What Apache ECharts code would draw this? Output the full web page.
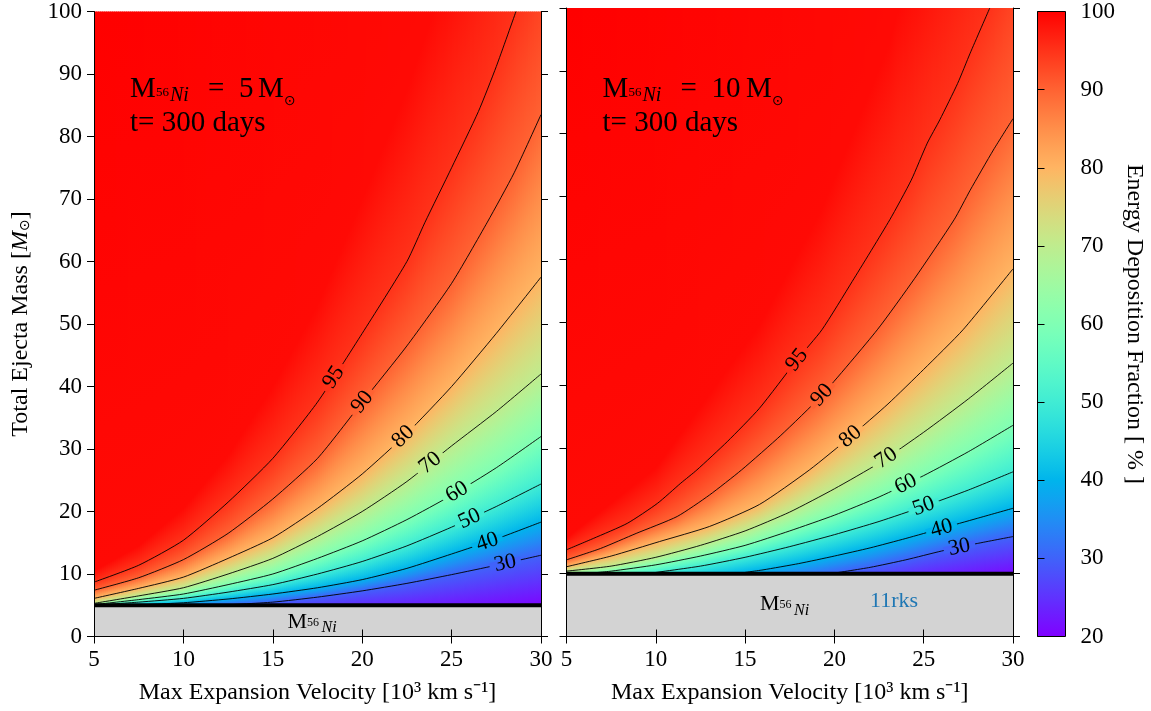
<!DOCTYPE html>
<html>
<head>
<meta charset="utf-8">
<script src="https://cdn.jsdelivr.net/npm/echarts@6.0.0/dist/echarts.min.js"></script>
<style>
html,body{margin:0;padding:0;background:#ffffff;}
#chart{width:1151px;height:711px;}
</style>
</head>
<body>
<div id="chart"></div>
<script>
// ================= DATA =================
const velocityTicks = [5, 10, 15, 20, 25, 30];
const massTicks = [0, 10, 20, 30, 40, 50, 60, 70, 80, 90, 100];
const fractionTicks = [20, 30, 40, 50, 60, 70, 80, 90, 100];
const contourLevels = [30, 40, 50, 60, 70, 80, 90, 95];
const labelLevels = [95, 90, 80, 70, 60, 50, 40, 30];

// ---- left panel: M56Ni = 5 Msun ----
const leftNiMass = 5;
const leftC95 = [[5,8.7],[7.5,11.4],[10,15.4],[12.5,21.5],[15,28.5],[17.5,37.5],[20,48.5],[22.5,60],[23.5,66.2],[25,75],[26.5,84],[27.5,91.2],[28.6,100]];
const leftC90 = [[5,7.4],[7.5,9.4],[10,12.3],[12.5,16.5],[15,22],[17.5,28.5],[20,37.5],[22.5,46.5],[25,56.5],[27,66.3],[28.5,74.2],[30,83.5]];
const leftC80 = [[5,6.1],[7.5,7.7],[10,9.5],[12.5,12.5],[15,15.8],[17.5,20.5],[20,26],[22.5,32.5],[25,40],[27.5,48.5],[30,57.5]];
const leftC70 = [[5,5.3],[7.5,6.5],[10,7.8],[12.5,10],[15,12.5],[17.5,16],[20,20],[22.5,24.8],[25,30.5],[27.5,36],[30,42]];
const leftC60 = [[5,5.1],[7.5,5.9],[10,6.8],[12.5,8.3],[15,10],[17.5,12.5],[20,15.3],[22.5,18.7],[25,22.6],[27.5,27],[30,32]];
const leftC50 = [[5,5],[7.5,5.5],[10,6.1],[12.5,7.1],[15,8.3],[17.5,10],[20,12],[22.5,14.5],[25,17.5],[27.5,20.8],[30,24.4]];
const leftC40 = [[7,5],[10,5.4],[12.5,6],[15,6.8],[17.5,7.8],[20,9.1],[22.5,10.9],[25,13.2],[27.5,15.6],[30,18.3]];
const leftC30 = [[12,5],[15,5.5],[17.5,6.3],[20,7.3],[22.5,8.5],[25,9.9],[27.5,11.4],[30,13.0]];
// ~99 % shading edge, estimated from the colour (not drawn as a line)
const leftShade99 = [[5,10.5],[7.5,14.5],[10,20.5],[12.5,29],[15,40],[17.5,53],[20,70],[22.5,87.5],[24,100]];
// fraction just above the Ni line and along the top edge
const leftBottomValue = [[5,50],[7,40],[12,30],[20,24],[30,20.5]];
const leftTopValue = [[5,100],[24,99],[28.6,95],[30,93]];
const leftLabelVelocity = [18.4, 20, 22.3, 23.8, 25.3, 26, 27, 28];

// ---- right panel: M56Ni = 10 Msun ----
const rightNiMass = 10;
const rightC95 = [[5,13.8],[6.5,15.6],[8.4,18],[10.1,21.2],[11.4,24.4],[12.3,26.5],[14,31],[15.8,36.3],[17.9,44],[19.3,48.8],[21,56.5],[23.1,66.3],[24.3,72.6],[25.2,78.5],[25.9,82.2],[26.9,88],[27.6,92.8],[28.7,100]];
const rightC90 = [[5,12.2],[6.9,14],[8.9,16.4],[11.2,19.1],[13,22.5],[14.8,26.5],[17,32],[19.3,38.4],[22.4,48.8],[24.5,57],[26.7,66.3],[27.6,71],[28.9,77.4],[30,82.4]];
const rightC80 = [[5,11.1],[7.5,12.8],[10.2,15.1],[13,17.5],[15.8,21],[18.6,26.5],[20.9,31.8],[23,37],[25,42.5],[27.2,48.8],[30,58.5]];
const rightC70 = [[5,10.4],[7.5,11.2],[10,12.6],[12.5,14.5],[15,16.8],[17.5,19.8],[20,23.5],[22.5,27.6],[25,32.5],[27.5,37.8],[30,43.5]];
const rightC60 = [[6,10],[7.5,10.4],[10,11.4],[12.5,12.8],[15,14.5],[17.5,16.8],[20,19.3],[22.5,22.2],[25,25.6],[27.5,29.4],[30,33.6]];
const rightC50 = [[9.5,10],[12.5,11.2],[15,12.6],[17.5,14.3],[20,16.2],[22.5,18.3],[25,20.7],[27.5,23.3],[30,26.2]];
const rightC40 = [[14.5,10],[16,10.6],[18,11.6],[20,12.8],[22,14.1],[24,15.6],[26,17.2],[28,18.8],[30,20.4]];
const rightC30 = [[19.8,10],[22,11],[24,12.2],[26,13.6],[28,14.8],[30,15.9]];
const rightShade99 = [[5,15.7],[10,26.8],[15.8,49.5],[19.3,68],[21,79.8],[23.1,94.5],[23.6,100]];
const rightBottomValue = [[5,64],[6,60],[9.5,50],[14.5,40],[19.8,30],[25,24],[30,21]];
const rightTopValue = [[5,100],[23.6,99],[28.7,95],[30,93]];
const rightLabelVelocity = [17.9, 19.3, 20.9, 22.9, 24, 25, 26, 27];

// ================= helpers =================
const FONT = 'Liberation Serif';
function cmap(val) { // matplotlib "rainbow", 20..100
  const x = Math.min(1, Math.max(0, (val - 20) / 80));
  const c = v => Math.round(255 * Math.min(1, Math.max(0, v)));
  return 'rgb(' + c(Math.abs(2 * x - 0.5)) + ',' + c(Math.sin(Math.PI * x)) + ',' + c(Math.cos(Math.PI * x / 2)) + ')';
}
function interpAt(arr, v) {
  if (v < arr[0][0] || v > arr[arr.length - 1][0]) return null;
  for (let i = 1; i < arr.length; i++) {
    if (v <= arr[i][0]) {
      const x0 = arr[i-1][0], y0 = arr[i-1][1], x1 = arr[i][0], y1 = arr[i][1];
      const t = x1 === x0 ? 0 : (v - x0) / (x1 - x0);
      return y0 + t * (y1 - y0);
    }
  }
  return arr[arr.length - 1][1];
}
function clampInterp(arr, v) {
  if (v <= arr[0][0]) return arr[0][1];
  if (v >= arr[arr.length - 1][0]) return arr[arr.length - 1][1];
  return interpAt(arr, v);
}
function buildPanel(mNi, contours, shade, bottom, top, labelV) {
  const fills = contourLevels.map((lv, i) => ({ level: lv, pts: contours[i] }));
  fills.push({ level: 99, pts: shade });
  const byLevel = {};
  contourLevels.forEach((lv, i) => byLevel[lv] = contours[i]);
  return { mNi, contours, fills, bottom, top, labelV, byLevel };
}
const panels = [
  buildPanel(leftNiMass, [leftC30, leftC40, leftC50, leftC60, leftC70, leftC80, leftC90, leftC95], leftShade99, leftBottomValue, leftTopValue, leftLabelVelocity),
  buildPanel(rightNiMass, [rightC30, rightC40, rightC50, rightC60, rightC70, rightC80, rightC90, rightC95], rightShade99, rightBottomValue, rightTopValue, rightLabelVelocity)
];

function heatRender(P) {
  return function (params, api) {
    const pL = api.coord([5, 100]), pR = api.coord([30, 100]);
    const pB = api.coord([5, P.mNi]);
    const yTop = pL[1], yBot = pB[1];
    const children = [];
    const step = 2, span = 100 - P.mNi;
    for (let px = pL[0]; px < pR[0] - 0.01; px += step) {
      const w = Math.min(step, pR[0] - px);
      const v = 5 + (px + w / 2 - pL[0]) / (pR[0] - pL[0]) * 25;
      const bottomVal = clampInterp(P.bottom, v);
      const pts = [[P.mNi, bottomVal]];
      for (const c of P.fills) {
        const m = interpAt(c.pts, v);
        if (m === null || c.level <= bottomVal) continue;
        pts.push([Math.max(m, P.mNi), c.level]);
      }
      pts.push([100, clampInterp(P.top, v)]);
      pts.sort((a, b) => a[0] - b[0]);
      const stops = [];
      for (let i = pts.length - 1; i >= 1; i--) {
        const mb = pts[i][0], vb = pts[i][1], ma = pts[i-1][0], va = pts[i-1][1];
        const n = 4;
        for (let k = 0; k < n; k++) {
          const t = k / n;
          const m = mb + (ma - mb) * t, val = vb + (va - vb) * t;
          stops.push({ offset: Math.min(1, Math.max(0, (100 - m) / span)), color: cmap(val) });
        }
      }
      stops.push({ offset: 1, color: cmap(pts[0][1]) });
      children.push({
        type: 'rect',
        shape: { x: px, y: yTop, width: Math.min(w + 0.7, pR[0] - px), height: yBot - yTop },
        style: { fill: new echarts.graphic.LinearGradient(0, 0, 0, 1, stops) }
      });
    }
    return { type: 'group', children };
  };
}
function baseRender(P) {
  return function (params, api) {
    const pL = api.coord([5, P.mNi]), pR = api.coord([30, P.mNi]), p0 = api.coord([5, 0]);
    return { type: 'group', children: [
      { type: 'rect', shape: { x: pL[0], y: pL[1], width: pR[0] - pL[0], height: p0[1] - pL[1] }, style: { fill: '#d3d3d3' } },
      { type: 'line', shape: { x1: pL[0], y1: pL[1], x2: pR[0], y2: pR[1] }, style: { stroke: '#000', lineWidth: 4 } }
    ]};
  };
}
function labelRender(P) {
  return function (params, api) {
    const v = api.value(0), lv = api.value(1);
    const c = P.byLevel[lv];
    const m = interpAt(c, v);
    const p = api.coord([v, m]);
    const va = Math.max(c[0][0], v - 0.5), vb = Math.min(c[c.length-1][0], v + 0.5);
    const pa = api.coord([va, interpAt(c, va)]), pb = api.coord([vb, interpAt(c, vb)]);
    const ang = Math.atan2(-(pb[1] - pa[1]), pb[0] - pa[0]);
    return { type: 'group', x: p[0], y: p[1], rotation: ang, children: [
      { type: 'rect', shape: { x: -16, y: -3.5, width: 32, height: 7 }, style: { fill: cmap(lv) } },
      { type: 'text', style: { text: String(lv), x: 0, y: 0, align: 'center', verticalAlign: 'middle', font: '22px "' + FONT + '"', fill: '#000' } }
    ]};
  };
}
function colorbarRender(params, api) {
  const p0 = api.coord([0, 100]), p1 = api.coord([1, 20]);
  const stops = [];
  for (let i = 0; i <= 64; i++) stops.push({ offset: i / 64, color: cmap(100 - 80 * i / 64) });
  return { type: 'rect', shape: { x: p0[0], y: p0[1], width: p1[0] - p0[0], height: p1[1] - p0[1] },
    style: { fill: new echarts.graphic.LinearGradient(0, 0, 0, 1, stops), stroke: '#000', lineWidth: 1 } };
}

// ================= chart =================
const chart = echarts.init(document.getElementById('chart'), null, { renderer: 'canvas' });
const tickStyle = { show: true, inside: false, length: 7, lineStyle: { color: '#000', width: 1 } };
const lineStyleAx = { show: true, lineStyle: { color: '#000', width: 1 } };
const lblStyle = { show: true, color: '#000', fontSize: 23, fontFamily: FONT, margin: 12 };
const nameStyle = { color: '#000', fontSize: 24, fontFamily: FONT };

function xAx(grid, pos, labels, name) {
  return { gridIndex: grid, type: 'value', min: 5, max: 30, interval: 5, position: pos, z: 10,
    axisLine: lineStyleAx, axisTick: tickStyle, splitLine: { show: false },
    axisLabel: labels ? lblStyle : { show: false },
    name: name || '', nameLocation: 'middle', nameGap: 44, nameTextStyle: nameStyle };
}
function yAx(grid, pos, labels, name) {
  return { gridIndex: grid, type: 'value', min: 0, max: 100, interval: 10, position: pos, z: 10,
    axisLine: lineStyleAx, axisTick: tickStyle, splitLine: { show: false },
    axisLabel: labels ? lblStyle : { show: false },
    name: name || '', nameLocation: 'middle', nameGap: 61, nameRotate: 90,
    nameTextStyle: Object.assign({}, nameStyle, { rich: {
      it: { fontSize: 24, fontFamily: FONT, fontStyle: 'italic' },
      o: { fontSize: 14, fontFamily: 'DejaVu Sans', padding: [9, 0, 0, 0] },
      n: { fontSize: 24, fontFamily: FONT }
    } }) };
}
const xName = 'Max Expansion Velocity [10³ km s⁻¹]';

const series = [];
panels.forEach((P, k) => {
  series.push({ type: 'custom', xAxisIndex: k, yAxisIndex: k, renderItem: heatRender(P), data: [[5, 0]], silent: true, z: 1, animation: false });
  P.contours.forEach(c => series.push({ type: 'line', xAxisIndex: k, yAxisIndex: k, data: c, symbol: 'none', showSymbol: false, smooth: 0.2,
    lineStyle: { color: '#000', width: 0.9 }, silent: true, z: 2, animation: false }));
  series.push({ type: 'custom', xAxisIndex: k, yAxisIndex: k, renderItem: labelRender(P),
    data: labelLevels.map((lv, i) => [P.labelV[i], lv]), silent: true, z: 3, animation: false });
  series.push({ type: 'custom', xAxisIndex: k, yAxisIndex: k, renderItem: baseRender(P), data: [[5, 0]], silent: true, z: 4, animation: false });
});
series.push({ type: 'custom', xAxisIndex: 2, yAxisIndex: 2, renderItem: colorbarRender, data: [[0, 20]], silent: true, z: 1, animation: false });

// annotation texts (pieces placed by baseline)
const graphics = [];
function piece(x, baseline, text, size, opts) {
  opts = opts || {};
  const fam = opts.family || FONT;
  const k = fam === FONT ? 0.3375 : 0.346;
  graphics.push({ type: 'text', x: x, y: baseline - k * size, z: 100, silent: true,
    style: { text: text, font: (opts.italic ? 'italic ' : '') + size + 'px "' + fam + '"', fill: opts.color || '#000', align: 'left', verticalAlign: 'middle' } });
}
function panelTitle(x0, niText, numX, mX, sunX) {
  piece(x0, 99.3, 'M', 29);
  piece(x0 + 26, 97, '56', 13);
  piece(x0 + 40, 102.7, 'Ni', 20, { italic: true });
  piece(x0 + 78, 99.3, '=', 29);
  piece(numX, 99.3, niText, 29);
  piece(mX, 99.3, 'M', 29);
  piece(sunX, 106, '⊙', 14, { family: 'DejaVu Sans' });
  piece(x0, 133.5, 't= 300 days', 29);
}
panelTitle(130, '5', 239, 258, 284);
panelTitle(602.5, '10', 711.5, 746, 772);
function niLabel(x0, baseline) {
  piece(x0, baseline, 'M', 22);
  piece(x0 + 19.5, baseline - 2.5, '56', 12);
  piece(x0 + 34, baseline + 4, 'Ni', 16, { italic: true });
}
niLabel(287.5, 629.5);
niLabel(760, 611.7);
piece(870, 609, '11rks', 22, { color: '#1f77b4' });

const option = {
  animation: false,
  backgroundColor: '#ffffff',
  grid: [
    { left: 94, top: 8, width: 447, height: 628.5 },
    { left: 566.5, top: 8, width: 446.5, height: 628.5 },
    { left: 1037.5, top: 8, width: 28, height: 628.5 }
  ],
  xAxis: [
    xAx(0, 'bottom', true, xName),
    xAx(1, 'bottom', true, xName),
    { gridIndex: 2, type: 'value', min: 0, max: 1, show: false },
    xAx(0, 'top', false),
    xAx(1, 'top', false)
  ],
  yAxis: [
    yAx(0, 'left', true, 'Total Ejecta Mass [{it|M}{o|⊙}{n|]}'),
    yAx(1, 'left', false),
    { gridIndex: 2, type: 'value', min: 20, max: 100, interval: 10, position: 'right', z: 10,
      axisLine: { show: false }, axisTick: tickStyle, splitLine: { show: false },
      axisLabel: Object.assign({}, lblStyle, { margin: 15 }),
      name: 'Energy Deposition Fraction [ % ]', nameLocation: 'middle', nameGap: 57, nameRotate: -90, nameTextStyle: nameStyle },
    yAx(0, 'right', false),
    yAx(1, 'right', false)
  ],
  series: series,
  graphic: graphics
};
chart.setOption(option);
</script>
</body>
</html>
